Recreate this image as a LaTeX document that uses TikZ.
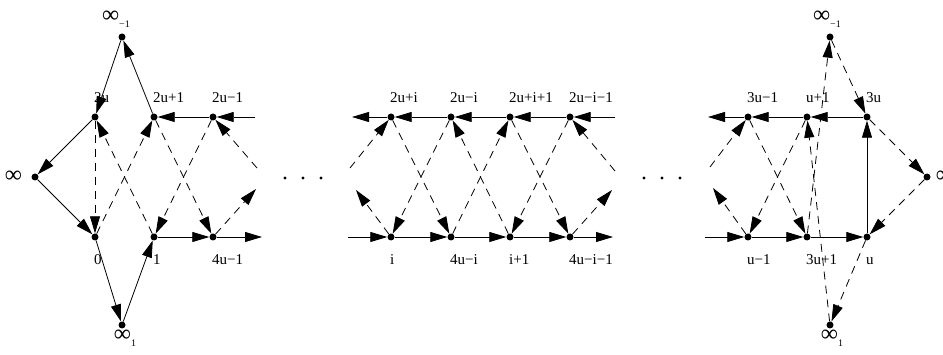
\documentclass[tikz,border=0pt]{standalone}
\usepackage{fontspec}
\setmainfont{Liberation Serif}
\usetikzlibrary{arrows.meta, positioning}
\newcommand{\binf}{{\fontsize{24}{24}\selectfont ∞}}
\newcommand{\isub}[1]{\raisebox{-5pt}{\fontsize{10}{10}\selectfont #1}}

\begin{document}
\begin{tikzpicture}[x=1pt, y=-1pt,
  vertex/.style = {circle, fill, inner sep=0pt, minimum size=7pt},
  tag/.style = {inner sep=0pt, font=\fontsize{15}{18}\selectfont},
  toplab/.style = {tag, anchor=base west, xshift=-1pt, yshift=14pt},
  botlab/.style = {tag, anchor=base west, xshift=-1pt, yshift=-28pt},
  arc/.style = {-{Triangle[length=17pt,width=10pt]}, line width=0.8pt},
  darc/.style = {arc, dash pattern=on 8pt off 6pt}
]
\useasboundingbox (0,0) rectangle (943,355);

% left part
\node[vertex] (im1) at (122,37) {};
\node[vertex] (t1) at (95,117) {};
\node[vertex] (t2) at (154,117) {};
\node[vertex] (t3) at (213,117) {};
\node[vertex] (inf) at (35,177) {};
\node[vertex] (b1) at (95,237) {};
\node[vertex] (b2) at (154,237) {};
\node[vertex] (b3) at (213,237) {};
\node[vertex] (ip1) at (122,325) {};
\coordinate (e1) at (255,117);
\coordinate (e2) at (262,237);
\coordinate (e3) at (256,189);
\coordinate (e4) at (257,168);

\draw[arc] (im1) -- (t1);
\draw[arc] (t2) -- (im1);
\draw[arc] (t1) -- (inf);
\draw[arc] (inf) -- (b1);
\draw[arc] (b1) -- (ip1);
\draw[arc] (ip1) -- (b2);
\draw[arc] (t3) -- (t2);
\draw[arc] (e1) -- (t3);
\draw[arc] (b2) -- (b3);
\draw[arc] (b3) -- (e2);
\draw[darc] (t1) -- (b1);
\draw[darc] (b2) -- (t1);
\draw[darc] (b1) -- (t2);
\draw[darc] (t2) -- (b3);
\draw[darc] (t3) -- (b2);
\draw[darc] (b3) -- (e3);
\draw[darc] (e4) -- (t3);

\node[tag, above=6pt of im1, xshift=-6pt] (lim1) {\binf\isub{−1}};
\node[tag, below=1pt of ip1, xshift=3pt] (lip1) {\binf\isub{1}};
\node[tag, left=9pt of inf] (linf) {\binf};
\node[toplab] (lt1) at (t1) {2u};
\node[toplab] (lt2) at (t2) {2u+1};
\node[toplab] (lt3) at (t3) {2u−1};
\node[botlab] (lb1) at (b1) {0};
\node[botlab] (lb2) at (b2) {1};
\node[botlab] (lb3) at (b3) {4u−1};

\foreach \x in {285,303,321} \fill (\x,178) circle (1.6pt);

% middle part
\node[vertex] (mt1) at (391,117) {};
\node[vertex] (mt2) at (451,117) {};
\node[vertex] (mt3) at (510,117) {};
\node[vertex] (mt4) at (570,117) {};
\node[vertex] (mb1) at (391,237) {};
\node[vertex] (mb2) at (451,237) {};
\node[vertex] (mb3) at (510,237) {};
\node[vertex] (mb4) at (570,237) {};
\coordinate (e5) at (615,117);
\coordinate (e6) at (352,117);
\coordinate (e7) at (348,237);
\coordinate (e8) at (613,237);
\coordinate (e9) at (350,168);
\coordinate (e10) at (356,190);
\coordinate (e11) at (615,171);
\coordinate (e12) at (612,190);

\draw[arc] (e5) -- (mt4);
\draw[arc] (mt4) -- (mt3);
\draw[arc] (mt3) -- (mt2);
\draw[arc] (mt2) -- (mt1);
\draw[arc] (mt1) -- (e6);
\draw[arc] (e7) -- (mb1);
\draw[arc] (mb1) -- (mb2);
\draw[arc] (mb2) -- (mb3);
\draw[arc] (mb3) -- (mb4);
\draw[arc] (mb4) -- (e8);
\draw[darc] (e9) -- (mt1);
\draw[darc] (mb1) -- (e10);
\draw[darc] (mt1) -- (mb2);
\draw[darc] (mt2) -- (mb1);
\draw[darc] (mb2) -- (mt3);
\draw[darc] (mb3) -- (mt2);
\draw[darc] (mt3) -- (mb4);
\draw[darc] (mt4) -- (mb3);
\draw[darc] (e11) -- (mt4);
\draw[darc] (mb4) -- (e12);

\node[toplab] (lmt1) at (mt1) {2u+i};
\node[toplab] (lmt2) at (mt2) {2u−i};
\node[toplab] (lmt3) at (mt3) {2u+i+1};
\node[toplab] (lmt4) at (mt4) {2u−i−1};
\node[botlab] (lmb1) at (mb1) {i};
\node[botlab] (lmb2) at (mb2) {4u−i};
\node[botlab] (lmb3) at (mb3) {i+1};
\node[botlab] (lmb4) at (mb4) {4u−i−1};

\foreach \x in {644,662,680} \fill (\x,178) circle (1.6pt);

% right part
\node[vertex] (rt1) at (748,117) {};
\node[vertex] (rt2) at (807,117) {};
\node[vertex] (rt3) at (867,117) {};
\node[vertex] (rb1) at (748,237) {};
\node[vertex] (rb2) at (807,237) {};
\node[vertex] (rb3) at (867,237) {};
\node[vertex] (rim1) at (830,37) {};
\node[vertex] (rip1) at (830,325) {};
\node[vertex] (rinf) at (927,177) {};
\coordinate (e13) at (708,117);
\coordinate (e14) at (705,237);
\coordinate (e15) at (710,167);
\coordinate (e16) at (713,188);

\draw[arc] (rt3) -- (rt2);
\draw[arc] (rt2) -- (rt1);
\draw[arc] (rt1) -- (e13);
\draw[arc] (e14) -- (rb1);
\draw[arc] (rb1) -- (rb2);
\draw[arc] (rb2) -- (rb3);
\draw[arc] (rb3) -- (rt3);
\draw[darc] (e15) -- (rt1);
\draw[darc] (rb1) -- (e16);
\draw[darc] (rt1) -- (rb2);
\draw[darc] (rt2) -- (rb1);
\draw[darc] (rb2) -- (rim1);
\draw[darc] (rip1) -- (rt2);
\draw[darc] (rim1) -- (rt3);
\draw[darc] (rt3) -- (rinf);
\draw[darc] (rinf) -- (rb3);
\draw[darc] (rb3) -- (rip1);

\node[tag, above=6pt of rim1, xshift=-3pt] (lrim1) {\binf\isub{−1}};
\node[tag, below=1pt of rip1, xshift=2pt] (lrip1) {\binf\isub{1}};
\node[tag, right=5pt of rinf] (lrinf) {\binf};
\node[toplab] (lrt1) at (rt1) {3u−1};
\node[toplab] (lrt2) at (rt2) {u+1};
\node[toplab] (lrt3) at (rt3) {3u};
\node[botlab] (lrb1) at (rb1) {u−1};
\node[botlab] (lrb2) at (rb2) {3u+1};
\node[botlab] (lrb3) at (rb3) {u};
\end{tikzpicture}
\end{document}
